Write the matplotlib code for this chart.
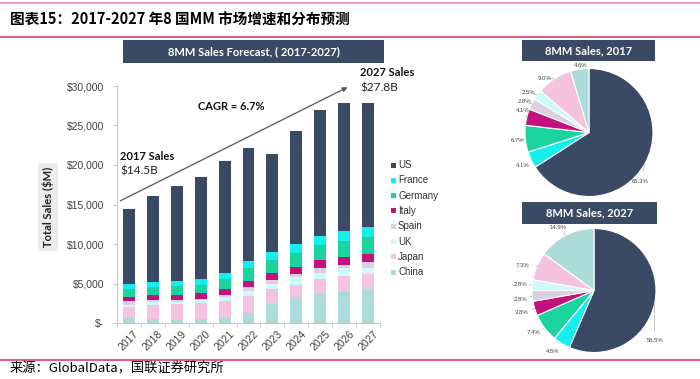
import matplotlib
matplotlib.use('Agg')
import matplotlib.pyplot as plt
import numpy as np
from matplotlib.patches import Rectangle
from matplotlib.lines import Line2D

# ---------------- data ----------------
years = ['2017', '2018', '2019', '2020', '2021', '2022', '2023', '2024', '2025', '2026', '2027']
# sales in $M, stacked bottom -> top
china = [670, 460, 380, 500, 800, 1300, 2350, 3240, 3820, 3950, 4140]
japan = [1310, 1840, 1970, 1980, 2000, 2100, 1940, 1630, 1730, 1950, 2030]
uk = [360, 300, 300, 380, 440, 680, 610, 890, 790, 1000, 780]
spain = [410, 260, 250, 240, 330, 500, 600, 420, 560, 500, 780]
italy = [600, 670, 700, 680, 760, 760, 840, 920, 1040, 960, 1060]
germany = [970, 1050, 1100, 1090, 1260, 1630, 1690, 1800, 1890, 2040, 2060]
france = [600, 550, 600, 730, 800, 890, 1000, 1100, 1170, 1200, 1250]
us = [9470, 10900, 12000, 12900, 14100, 14240, 12400, 14300, 15900, 16300, 15700]

yticks = [0, 5000, 10000, 15000, 20000, 25000, 30000]
ytick_labels = ['$-', '$5,000', '$10,000', '$15,000', '$20,000', '$25,000', '$30,000']

pie_countries = ['US', 'France', 'Germany', 'Italy', 'Spain', 'UK', 'Japan', 'China']
share_2017 = [65.3, 4.1, 6.7, 4.1, 2.8, 2.5, 9.0, 4.6]
share_2027 = [56.5, 4.5, 7.4, 3.8, 2.8, 2.8, 7.3, 14.9]

colors = {'US': '#3b4a64', 'France': '#14eeee', 'Germany': '#1bd39d', 'Italy': '#c2127e',
          'Spain': '#dccfe0', 'UK': '#cdf9fa', 'Japan': '#f6c3de', 'China': '#acdcd9'}
NAVY = '#3b4a64'
RED = '#d9506e'
CJK = ['Noto Sans CJK SC', 'DejaVu Sans']
SANS = ['Liberation Sans', 'DejaVu Sans']
LATO = ['Lato', 'DejaVu Sans']

W, H = 700, 379
fig = plt.figure(figsize=(7, 3.79), dpi=100)


def fx(px):
    return px / W


def fy(py):
    return 1 - py / H


# ---------------- header / footer ----------------
fig.add_artist(Line2D([fx(0), fx(700)], [fy(3), fy(3)], color='#ec8fa3', lw=1.2))
for yy in (37, 360):
    fig.add_artist(Line2D([fx(0), fx(700)], [fy(yy), fy(yy)], color=RED, lw=1.3))
fig.text(fx(10), fy(20), '图表15：2017-2027 年8 国MM 市场增速和分布预测', family=CJK,
         fontsize=10.5, fontweight='bold', va='center', ha='left', color='black')
fig.text(fx(10), fy(369), '来源：GlobalData，国联证券研究所', family=CJK,
         fontsize=9.5, va='center', ha='left', color='black')

# ---------------- stacked bar chart ----------------
ax = fig.add_axes([fx(117), fy(323), fx(380 - 117), (323 - 86) / H])
x = np.arange(len(years))
stack = [('China', china), ('Japan', japan), ('UK', uk), ('Spain', spain),
         ('Italy', italy), ('Germany', germany), ('France', france), ('US', us)]
bottom = np.zeros(len(years))
for name, vals in stack:
    v = np.array(vals, dtype=float)
    ax.bar(x, v, bottom=bottom, width=0.5, color=colors[name], edgecolor='none', zorder=2)
    bottom += v

ax.set_xlim(-0.5, len(years) - 0.5)
ax.set_ylim(0, 30000)
ax.set_yticks(yticks)
ax.set_yticklabels(ytick_labels, family=SANS, fontsize=7.5, color='#404040')
ax.set_xticks(x)
ax.set_xticklabels(years, rotation=45, family=SANS, fontsize=7.5, color='#404040',
                   ha='center', va='top')
ax.set_xticks(np.arange(-0.5, len(years), 1.0), minor=True)
ax.tick_params(axis='x', which='major', length=0, pad=4)
ax.tick_params(axis='x', which='minor', length=3, color='#c8c8c8')
ax.tick_params(axis='y', length=3, color='#c8c8c8', pad=6)
for s in ('top', 'right'):
    ax.spines[s].set_visible(False)
for s in ('left', 'bottom'):
    ax.spines[s].set_color('#c8c8c8')
    ax.spines[s].set_linewidth(0.8)
ax.set_facecolor('none')

# y label with gray box
fig.text(fx(48), fy(207), 'Total Sales ($M)', rotation=90, family=LATO, fontsize=8,
         fontweight='bold', ha='center', va='center', color='#222222',
         bbox=dict(boxstyle='square,pad=0.35', fc='#ececec', ec='none'))

# chart title box
fig.add_artist(Rectangle((fx(123), fy(63)), fx(384 - 123), (63 - 40) / H,
                         transform=fig.transFigure, fc=NAVY, ec='none'))
fig.text(fx(253.5), fy(51.5), '8MM Sales Forecast, ( 2017-2027)', family=LATO, fontsize=8,
         fontweight='bold', color='white', ha='center', va='center')

# CAGR arrow and notes
fig.add_artist(matplotlib.patches.FancyArrowPatch(
    (fx(118), fy(202)), (fx(350), fy(86)), transform=fig.transFigure,
    arrowstyle='-|>', mutation_scale=7, color='#555555', lw=0.9))
fig.text(fx(198), fy(107), 'CAGR = 6.7%', family=LATO, fontsize=8, fontweight='bold',
         ha='left', va='center', color='#111111')
fig.text(fx(120), fy(156), '2017 Sales', family=LATO, fontsize=8, fontweight='bold',
         ha='left', va='center', color='#111111')
fig.text(fx(120), fy(171), '$14.5B', family=LATO, fontsize=8.5,
         ha='left', va='center', color='#222222')
fig.text(fx(360), fy(72), '2027 Sales', family=LATO, fontsize=8, fontweight='bold',
         ha='left', va='center', color='#111111')
fig.text(fx(360), fy(88), '$27.8B', family=LATO, fontsize=8.5,
         ha='left', va='center', color='#222222')

# legend (US on top)
leg_names = ['US', 'France', 'Germany', 'Italy', 'Spain', 'UK', 'Japan', 'China']
for i, name in enumerate(leg_names):
    yy = 165 + i * 15.3
    fig.add_artist(Rectangle((fx(390.5), fy(yy + 2.5)), fx(5), 5 / H,
                             transform=fig.transFigure, fc=colors[name], ec='none'))
    fig.text(fx(398), fy(yy), name, family=SANS, fontsize=7, color='#333333',
             ha='left', va='center')

# ---------------- pies ----------------
lab_pos_2017 = [(0.80, -0.76), (-1.03, -0.52), (-1.11, -0.12), (-1.03, 0.35),
                (-1.00, 0.48), (-0.95, 0.62), (-0.69, 0.85), (-0.13, 1.04)]
lab_pos_2027 = [(0.98, -0.80), (-0.66, -0.99), (-0.98, -0.67), (-1.16, -0.35),
                (-1.19, -0.14), (-1.19, 0.09), (-1.16, 0.41), (-0.58, 1.02)]


def draw_pie(cx, cy, r_px, shares, title, box, lab_pos):
    half = 80
    pax = fig.add_axes([fx(cx - half), fy(cy + half), fx(2 * half), 2 * half / H])
    lim = half / r_px
    wedges, _ = pax.pie(shares, colors=[colors[c] for c in pie_countries], startangle=90,
                        counterclock=False, radius=1.0,
                        wedgeprops=dict(edgecolor='white', linewidth=0.8))
    pax.set_xlim(-lim, lim)
    pax.set_ylim(-lim, lim)
    pax.set_aspect('equal')
    pax.axis('off')
    for w, v, (lx, ly) in zip(wedges, shares, lab_pos):
        ang = np.deg2rad((w.theta1 + w.theta2) / 2)
        ex, ey = np.cos(ang), np.sin(ang)
        pax.annotate(f'{v:.1f}%', xy=(ex, ey), xytext=(lx, ly), fontsize=4.3,
                     family=SANS, color='#444444', ha='center', va='center',
                     arrowprops=dict(arrowstyle='-', color='#999999', lw=0.4,
                                     shrinkA=3, shrinkB=0))
    bx0, by0, bx1, by1 = box
    fig.add_artist(Rectangle((fx(bx0), fy(by1)), fx(bx1 - bx0), (by1 - by0) / H,
                             transform=fig.transFigure, fc=NAVY, ec='none'))
    fig.text(fx((bx0 + bx1) / 2), fy((by0 + by1) / 2), title, family=LATO, fontsize=8,
             fontweight='bold', color='white', ha='center', va='center')


draw_pie(589, 132.5, 64, share_2017, '8MM Sales, 2017', (522, 40, 655, 61), lab_pos_2017)
draw_pie(594, 290.5, 62, share_2027, '8MM Sales, 2027', (522, 202, 657, 224), lab_pos_2027)

fig.savefig('out.png', dpi=100)
